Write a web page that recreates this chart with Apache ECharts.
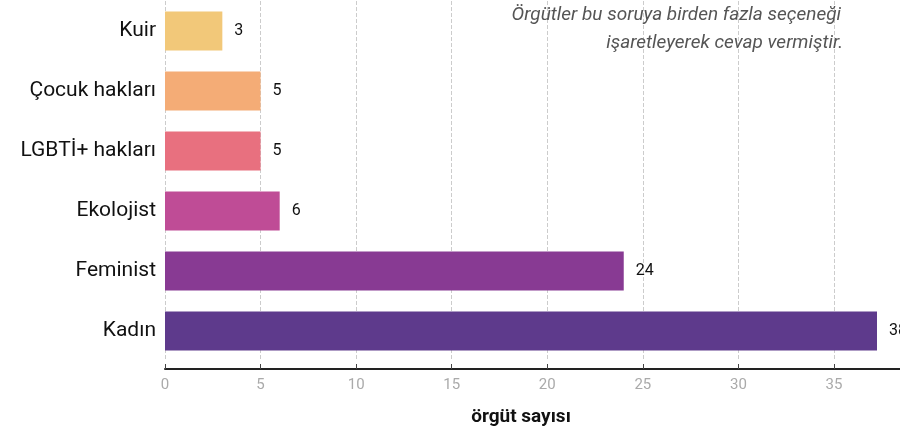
<!DOCTYPE html>
<html><head><meta charset="utf-8">
<script src="https://cdn.jsdelivr.net/npm/echarts@6/dist/echarts.min.js"></script>
<style>html,body{margin:0;padding:0;background:#fff}#c{width:900px;height:435px}</style>
</head><body><div id="c"></div>
<script>
const categories = ['Kadın', 'Feminist', 'Ekolojist', 'LGBTİ+ haklar\u0131', 'Çocuk haklar\u0131', 'Kuir'];
const values = [38, 24, 6, 5, 5, 3];
const colors = ['#5E3A8C', '#883A93', '#BF4C96', '#E8707F', '#F4AC76', '#F2C879'];
const axisName = 'örgüt sayısı';
const noteLines = ['Örgütler bu soruya birden fazla seçeneği', 'işaretleyerek cevap vermiştir.'];
const FONT = 'Roboto';
const AXIS_OFFSET = 8;

const chart = echarts.init(document.getElementById('c'), null, {renderer: 'canvas'});
chart.setOption({
  animation: false,
  textStyle: {fontFamily: FONT},
  grid: {left: 165, right: 23, top: 1, height: 360, containLabel: false, outerBoundsMode: 'none'},
  xAxis: {
    type: 'value', min: 0, max: 37.25, interval: 5, offset: AXIS_OFFSET,
    name: axisName, nameLocation: 'middle', nameGap: 39,
    nameTextStyle: {fontFamily: FONT, fontWeight: 'bold', fontSize: 19, color: '#111'},
    axisLine: {show: true, lineStyle: {color: '#222', width: 2}},
    axisTick: {show: true, inside: true, length: 5, lineStyle: {color: '#444', width: 1}},
    axisLabel: {color: '#aaa', fontSize: 15, margin: 9, showMaxLabel: false,
      formatter: v => (v % 5 === 0 ? String(v) : '')},
    splitLine: {show: true, showMaxLine: false, lineStyle: {type: 'dashed', color: '#ccc', width: 1}}
  },
  yAxis: {
    type: 'category', data: categories,
    axisLine: {show: false}, axisTick: {show: false},
    axisLabel: {color: '#111', fontSize: 21, margin: 9}
  },
  series: [{
    type: 'bar', barWidth: 39, clip: true,
    data: values.map((v, i) => ({value: v, itemStyle: {color: colors[i]}})),
    label: {show: true, position: 'right', distance: 12, color: '#111', fontSize: 16}
  }]
});
const grid = chart.getModel().getComponent('grid', 0).coordinateSystem.getRect();
const lineY = grid.y + grid.height + AXIS_OFFSET;
chart.setOption({graphic: [
  {type: 'text', x: 841, y: 6, style: {text: noteLines[0], font: 'italic 19px ' + FONT, fill: '#555', align: 'right'}},
  {type: 'text', x: 843, y: 34, style: {text: noteLines[1], font: 'italic 19px ' + FONT, fill: '#555', align: 'right'}},
  {type: 'line', shape: {x1: grid.x + grid.width, y1: lineY, x2: 900, y2: lineY}, style: {stroke: '#222', lineWidth: 2}}
]});
</script></body></html>
